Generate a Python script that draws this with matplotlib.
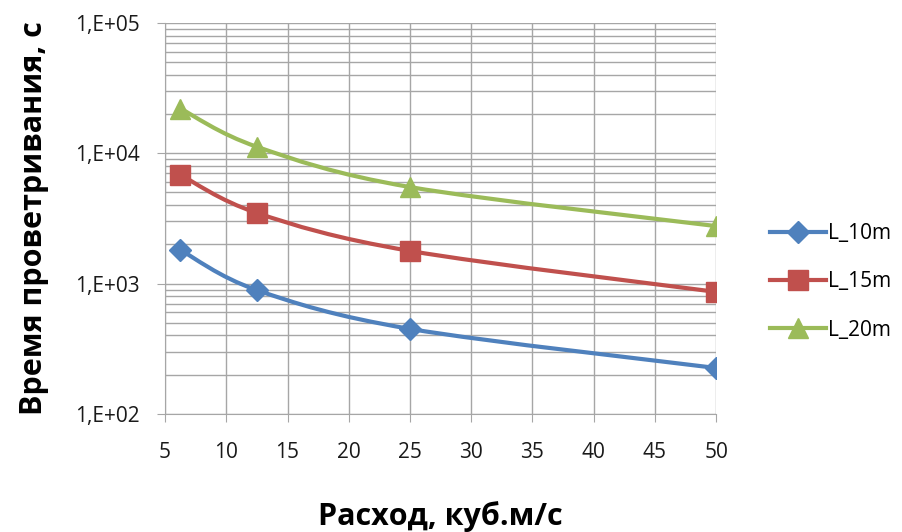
import numpy as np
import matplotlib
matplotlib.use("Agg")
import matplotlib.pyplot as plt
from matplotlib.path import Path
from matplotlib.patches import PathPatch
from matplotlib.lines import Line2D
from matplotlib.ticker import FixedLocator, LogLocator, FuncFormatter, NullFormatter

plt.rcParams['font.family'] = ['Open Sans', 'DejaVu Sans']

# data
flow = [6.25, 12.5, 25, 50]
series_names = ['L_10m', 'L_15m', 'L_20m']
l10 = [1810, 890, 449, 225]
l15 = [6820, 3480, 1780, 863]
l20 = [22000, 11200, 5500, 2760]
x_ticks = [5, 10, 15, 20, 25, 30, 35, 40, 45, 50]

colors = ['#4F81BD', '#C0504D', '#9BBB59']
markers = ['D', 's', '^']
msizes = [11, 14, 14]
lw = 3.0


def smooth_path(xs, ys):
    # Excel-style smoothed line: cubic Bezier (Catmull-Rom) in x / log10(y)
    px = np.asarray(xs, float)
    py = np.log10(np.asarray(ys, float))
    verts = [(px[0], py[0])]
    codes = [Path.MOVETO]
    n = len(px)
    for i in range(n - 1):
        i0 = max(i - 1, 0)
        i3 = min(i + 2, n - 1)
        c1 = (px[i] + (px[i + 1] - px[i0]) / 6, py[i] + (py[i + 1] - py[i0]) / 6)
        c2 = (px[i + 1] - (px[i3] - px[i]) / 6, py[i + 1] - (py[i3] - py[i]) / 6)
        verts += [c1, c2, (px[i + 1], py[i + 1])]
        codes += [Path.CURVE4] * 3
    verts = [(vx, 10 ** vy) for vx, vy in verts]
    return Path(verts, codes)


fig = plt.figure(figsize=(9.02, 5.32), dpi=100)
ax = fig.add_axes([0.183, 0.222, 0.611, 0.735])
ax.set_yscale('log')
ax.set_xlim(5, 50)
ax.set_ylim(100, 100000)

grid_c = '#A6A6A6'
ax.xaxis.set_major_locator(FixedLocator(x_ticks))
ax.yaxis.set_major_locator(LogLocator(base=10))
ax.yaxis.set_minor_locator(LogLocator(base=10, subs=np.arange(2, 10)))
ax.yaxis.set_minor_formatter(NullFormatter())
ax.yaxis.set_major_formatter(FuncFormatter(lambda v, p: '1,E+%02d' % round(np.log10(v))))
ax.grid(True, which='major', color=grid_c, lw=1.0)
ax.grid(True, which='minor', axis='y', color=grid_c, lw=1.0)
ax.set_axisbelow(True)
ax.tick_params(which='major', direction='out', length=6, color=grid_c,
               labelsize=15, labelcolor='#1a1a1a')
ax.tick_params(axis='y', pad=12)
ax.tick_params(axis='x', pad=14)
ax.tick_params(which='minor', length=0)
for s in ['top', 'right']:
    ax.spines[s].set_visible(False)
for s in ['left', 'bottom']:
    ax.spines[s].set_color(grid_c)

for vals, name, c, m, ms in zip([l10, l15, l20], series_names, colors, markers, msizes):
    ax.add_patch(PathPatch(smooth_path(flow, vals), fill=False, edgecolor=c, lw=lw,
                           capstyle='round', joinstyle='round', zorder=3))
    ax.plot(flow, vals, linestyle='None', color=c, marker=m, markersize=ms,
            label=name, zorder=4)

handles = [Line2D([], [], color=c, lw=lw, marker=m, markersize=ms)
           for c, m, ms in zip(colors, markers, msizes)]
fig.legend(handles, series_names, loc='center left', bbox_to_anchor=(0.833, 0.47),
           frameon=False, fontsize=15, handlelength=2.7, labelspacing=1.3,
           handletextpad=0.1)

ax.set_xlabel('Расход, куб.м/с', fontsize=22, fontweight='bold', labelpad=28)
ax.set_ylabel('Время проветривания, с', fontsize=22, fontweight='bold', labelpad=19)

fig.savefig('out.png', dpi=100)
